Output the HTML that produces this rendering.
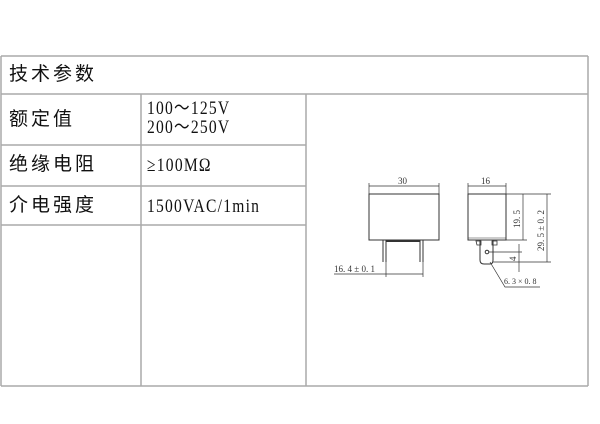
<!DOCTYPE html>
<html><head><meta charset="utf-8"><style>
body{margin:0;width:600px;height:424px;background:#fff;position:relative;overflow:hidden;font-family:"Liberation Serif","Noto Serif CJK SC",serif;}
.t{position:absolute;color:#111;white-space:nowrap;}
.c{font-family:"Liberation Sans","Noto Sans CJK SC",sans-serif;font-size:19px;letter-spacing:3px;line-height:22px;}
.v{font-family:"Liberation Serif",serif;font-size:19px;letter-spacing:1.5px;transform:scaleX(0.82);transform-origin:left;line-height:19px;}
</style></head><body>
<svg width="600" height="424" style="position:absolute;left:0;top:0">
<g stroke="#aaa" stroke-width="1.5" fill="none">
<line x1="1" y1="56" x2="588" y2="56"/>
<line x1="1" y1="94" x2="588" y2="94"/>
<line x1="1" y1="145" x2="306" y2="145"/>
<line x1="1" y1="186" x2="306" y2="186"/>
<line x1="1" y1="225" x2="306" y2="225"/>
<line x1="1" y1="386" x2="588" y2="386"/>
<line x1="1" y1="56" x2="1" y2="386"/>
<line x1="588" y1="56" x2="588" y2="386"/>
<line x1="141" y1="94" x2="141" y2="386"/>
<line x1="306" y1="94" x2="306" y2="386"/>
</g>
<g stroke="#333" stroke-width="1" fill="none">
<rect x="369" y="194" width="70" height="46"/>
<line x1="383" y1="240" x2="383" y2="262"/><line x1="386" y1="240" x2="386" y2="262"/>
<line x1="420" y1="240" x2="420" y2="262"/><line x1="423" y1="240" x2="423" y2="262"/>
<line x1="386" y1="241" x2="420" y2="241" stroke-width="2"/>
<line x1="369" y1="186" x2="439" y2="186" stroke-width=".7"/>
<line x1="369" y1="183" x2="369" y2="194" stroke-width=".7"/><line x1="439" y1="183" x2="439" y2="194" stroke-width=".7"/>
<line x1="334" y1="274" x2="423" y2="274" stroke-width=".7"/>
<line x1="386" y1="262" x2="386" y2="277" stroke-width=".7"/><line x1="423" y1="262" x2="423" y2="277" stroke-width=".7"/>
<rect x="468" y="194" width="38" height="46"/>
<line x1="468" y1="238" x2="506" y2="238" stroke-width=".6"/>
<path d="M480 240 V260 Q480 264 484 264 H490 Q493 264 493 260 V240"/>
<path d="M476 241 h5 v4 h-4z M492 241 h5 v4 h-5z" stroke-width=".8"/>
<circle cx="487" cy="252" r="1.8"/>
<line x1="468" y1="186" x2="506" y2="186" stroke-width=".7"/>
<line x1="468" y1="183" x2="468" y2="194" stroke-width=".7"/><line x1="506" y1="183" x2="506" y2="194" stroke-width=".7"/>
<g stroke-width=".7">
<line x1="506" y1="194" x2="551" y2="194"/><line x1="506" y1="240" x2="527" y2="240"/>
<line x1="493" y1="262" x2="551" y2="262"/><line x1="489" y1="252" x2="522" y2="252"/>
<line x1="523" y1="194" x2="523" y2="240"/><line x1="547" y1="194" x2="547" y2="262"/>
<line x1="519" y1="244" x2="519" y2="272"/>
<polyline points="490,262 505,287 540,287"/>
</g>
</g>
<g fill="#333" font-family="Liberation Serif,serif" font-size="9">
<text x="398" y="184">30</text>
<text x="481" y="184">16</text>
<text x="334" y="272">16. 4 ± 0. 1</text>
<text x="504" y="284" font-size="8">6. 3 × 0. 8</text>
<text transform="translate(520,228) rotate(-90)">19. 5</text>
<text transform="translate(544,251) rotate(-90)">29. 5 ± 0. 2</text>
<text transform="translate(516,261) rotate(-90)">4</text>
</g>
</svg>
<div class="t c" style="left:9px;top:64px">技术参数</div>
<div class="t c" style="left:9px;top:109px">额定值</div>
<div class="t c" style="left:9px;top:154px">绝缘电阻</div>
<div class="t c" style="left:9px;top:195px">介电强度</div>
<div class="t v" style="left:147px;top:99px">100～125V<br>200～250V</div>
<div class="t v" style="left:147px;top:156px">≥100MΩ</div>
<div class="t v" style="left:147px;top:197px">1500VAC/1min</div>
</body></html>
